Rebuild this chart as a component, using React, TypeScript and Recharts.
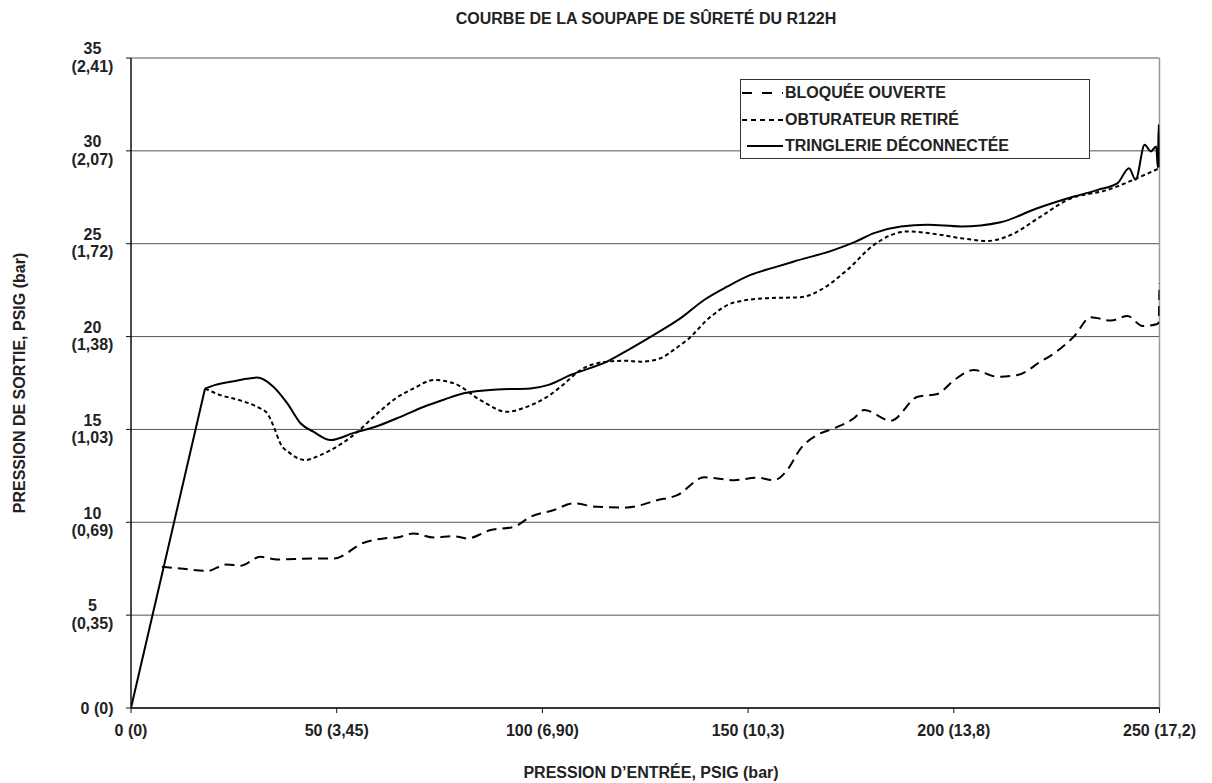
import React from "react";
import { LineChart, Line, XAxis, YAxis, CartesianGrid, ReferenceLine, Legend } from "recharts";

const FONT = "'Liberation Sans', Arial, sans-serif";

const xTicks = [0, 50, 100, 150, 200, 250];
const xTickLabels = ["0 (0)", "50 (3,45)", "100 (6,90)", "150 (10,3)", "200 (13,8)", "250 (17,2)"];
const yTicks = [0, 5, 10, 15, 20, 25, 30, 35];
const yTickPsig = ["0 (0)", "5", "10", "15", "20", "25", "30", "35"];
const yTickBar = ["", "(0,35)", "(0,69)", "(1,03)", "(1,38)", "(1,72)", "(2,07)", "(2,41)"];

const seriesNames = ["BLOQUÉE OUVERTE", "OBTURATEUR RETIRÉ", "TRINGLERIE DÉCONNECTÉE"];

// common straight rise from the origin, shared by all three curves
const riseX = [0, 18];
const riseY = [0, 17.2];

// BLOQUÉE OUVERTE (long dashes)
const bloqueeX = [7.5, 12, 18.5, 23.3, 26.6, 31.4, 35.5, 44.4, 49.3, 56.6, 61.4, 64.7, 68.7, 73.6, 78.5, 81.7, 87.4, 93.1, 97.1, 102.8, 107.6, 113.3, 120.6, 127.9, 132.8, 139.3, 146.6, 152.2, 156.3, 159.5, 162.8, 166.8, 170.9, 175.7, 178.2, 184.7, 191.2, 196, 200.1, 204.9, 210.6, 215.5, 221.1, 224.4, 229.2, 233.3, 238.2, 242.2, 245.9, 249.5, 249.8, 250];
const bloqueeY = [7.6, 7.51, 7.38, 7.73, 7.66, 8.14, 8.0, 8.05, 8.05, 8.9, 9.13, 9.18, 9.4, 9.18, 9.25, 9.13, 9.58, 9.76, 10.29, 10.66, 11.02, 10.83, 10.8, 11.19, 11.46, 12.42, 12.27, 12.4, 12.27, 12.81, 13.98, 14.7, 15.06, 15.6, 16.05, 15.47, 16.76, 16.91, 17.66, 18.2, 17.84, 17.93, 18.65, 19.1, 20.0, 21.04, 20.86, 21.11, 20.57, 20.68, 20.8, 22.87];

// OBTURATEUR RETIRÉ (short dashes)
const obturateurX = [18, 21.7, 26, 30.6, 33.1, 34.7, 36.3, 38.7, 42.4, 46, 49.3, 54.1, 60.6, 64.5, 68.7, 73.6, 78.5, 84.9, 91.4, 96, 101.2, 105, 109.3, 115.7, 120, 123.9, 128.7, 132, 135.2, 140.9, 146.5, 154.7, 162.8, 167.6, 174.1, 180.6, 188.7, 195.2, 201.7, 208.2, 213, 221.1, 227.6, 237.4, 245.5, 250];
const obturateurY = [17.2, 16.85, 16.6, 16.22, 15.87, 15.15, 14.25, 13.71, 13.35, 13.62, 13.98, 14.7, 16.0, 16.7, 17.21, 17.66, 17.48, 16.58, 15.95, 16.2, 16.76, 17.4, 18.2, 18.65, 18.7, 18.65, 18.83, 19.3, 19.82, 21.07, 21.83, 22.07, 22.12, 22.51, 23.59, 24.94, 25.66, 25.53, 25.3, 25.15, 25.39, 26.46, 27.36, 27.9, 28.62, 29.07];

// TRINGLERIE DÉCONNECTÉE (solid), after the rise
const tringlerieX = [18, 20.5, 25, 30.6, 34.6, 38, 41.2, 44.4, 48.5, 54, 60.6, 65.5, 71.2, 76, 80.9, 89, 97.1, 101.5, 106.8, 115.7, 121, 127.1, 133.6, 139.3, 145, 150.6, 156, 161.1, 170.9, 176, 180.6, 187.1, 193.6, 201.7, 211.4, 220.3, 229.2, 235, 239.8, 242.6, 244.2, 246.4, 247.9, 249.2, 249.6, 249.8, 250];
const tringlerieY = [17.2, 17.4, 17.6, 17.79, 17.3, 16.4, 15.33, 14.87, 14.43, 14.8, 15.24, 15.68, 16.22, 16.6, 16.95, 17.15, 17.21, 17.4, 17.93, 18.65, 19.3, 20.09, 20.99, 21.97, 22.7, 23.32, 23.7, 24.04, 24.67, 25.1, 25.57, 25.93, 26.02, 25.93, 26.16, 26.91, 27.54, 27.9, 28.26, 29.07, 28.44, 30.33, 29.97, 30.24, 29.1, 31.4, 29.1];

const toPoints = (xs: number[], ys: number[]) => xs.map((x, i) => ({ x, y: ys[i] }));

const riseData = toPoints(riseX, riseY);
const bloqueeData = toPoints(bloqueeX, bloqueeY);
const obturateurData = toPoints(obturateurX, obturateurY);
const tringlerieData = toPoints(tringlerieX, tringlerieY);

const textStyle = { fontFamily: FONT, fontWeight: 700, fontSize: 16, fill: "#222" };

const XTick = (props: any) => {
    const { x, payload } = props;
    const i = xTicks.indexOf(payload.value);
    return (
        <text x={x} y={736} textAnchor="middle" style={textStyle}>
            {xTickLabels[i]}
        </text>
    );
};

const YTick = (props: any) => {
    const { x, y, payload } = props;
    const i = yTicks.indexOf(payload.value);
    if (!yTickBar[i]) {
        return (
            <text x={x - 10.5} y={y + 6} textAnchor="end" style={textStyle}>
                {yTickPsig[i]}
            </text>
        );
    }
    return (
        <g>
            <text x={x - 31.5} y={y - 3.7} textAnchor="middle" style={textStyle}>
                {yTickPsig[i]}
            </text>
            <text x={x - 31.5} y={y + 13.7} textAnchor="middle" style={textStyle}>
                {yTickBar[i]}
            </text>
        </g>
    );
};

const LegendBox = () => (
    <div
        style={{
            width: 348,
            height: 78,
            border: "1.5px solid #333",
            background: "#fff",
            fontFamily: FONT,
            fontWeight: 700,
            fontSize: 16,
            color: "#222",
            boxSizing: "content-box",
        }}
    >
        {seriesNames.map((name, i) => (
            <div key={name} style={{ height: 26.5, display: "flex", alignItems: "center" }}>
                <svg width={44} height={10} style={{ flex: "none" }}>
                    <line
                        x1={i === 2 ? 6 : 1}
                        x2={42}
                        y1={5}
                        y2={5}
                        stroke="#000"
                        strokeWidth={2}
                        strokeDasharray={i === 0 ? "10 10" : i === 1 ? "5 4" : undefined}
                    />
                </svg>
                <span style={{ whiteSpace: "nowrap" }}>{name}</span>
            </div>
        ))}
    </div>
);

export default function App() {
    return (
        <div style={{ position: "relative", width: 1212, height: 783 }}>
            <style>{`body { margin: 0; }`}</style>
            <div
                style={{
                    position: "absolute",
                    top: 10,
                    left: 131,
                    width: 1030,
                    textAlign: "center",
                    fontFamily: FONT,
                    fontWeight: 700,
                    fontSize: 16,
                    color: "#222",
                }}
            >
                COURBE DE LA SOUPAPE DE SÛRETÉ DU R122H
            </div>
            <LineChart
                width={1212}
                height={783}
                margin={{ top: 58, right: 52.5, left: 0, bottom: 45 }}
            >
                <CartesianGrid vertical={false} stroke="#555" strokeWidth={1} />
                <XAxis
                    type="number"
                    dataKey="x"
                    domain={[0, 250]}
                    ticks={xTicks}
                    tick={XTick}
                    tickSize={5}
                    height={30}
                    axisLine={{ stroke: "#111", strokeWidth: 1.5 }}
                    tickLine={{ stroke: "#111" }}
                    allowDataOverflow
                    label={{
                        content: () => (
                            <text x={651} y={778} textAnchor="middle" style={textStyle}>
                                PRESSION D’ENTRÉE, PSIG (bar)
                            </text>
                        ),
                    }}
                />
                <YAxis
                    type="number"
                    domain={[0, 35]}
                    ticks={yTicks}
                    tick={YTick}
                    tickSize={5}
                    width={131}
                    axisLine={{ stroke: "#111", strokeWidth: 1.5 }}
                    tickLine={{ stroke: "#111" }}
                    allowDataOverflow
                    label={{
                        content: () => (
                            <text x={25} y={383} textAnchor="middle" transform="rotate(-90, 25, 383)" style={textStyle}>
                                PRESSION DE SORTIE, PSIG (bar)
                            </text>
                        ),
                    }}
                />
                <ReferenceLine x={250} stroke="#999" strokeWidth={1.5} />
                <Line
                    data={bloqueeData}
                    dataKey="y"
                    name={seriesNames[0]}
                    type="monotone"
                    stroke="#000"
                    strokeWidth={2}
                    strokeDasharray="10 6"
                    dot={false}
                    activeDot={false}
                    isAnimationActive={false}
                />
                <Line
                    data={obturateurData}
                    dataKey="y"
                    name={seriesNames[1]}
                    type="monotone"
                    stroke="#000"
                    strokeWidth={2}
                    strokeDasharray="4 3"
                    dot={false}
                    activeDot={false}
                    isAnimationActive={false}
                />
                <Line
                    data={riseData}
                    dataKey="y"
                    name={seriesNames[2] + " (montée)"}
                    type="linear"
                    stroke="#000"
                    strokeWidth={2}
                    dot={false}
                    activeDot={false}
                    isAnimationActive={false}
                />
                <Line
                    data={tringlerieData}
                    dataKey="y"
                    name={seriesNames[2]}
                    type="monotone"
                    stroke="#000"
                    strokeWidth={2}
                    dot={false}
                    activeDot={false}
                    isAnimationActive={false}
                />
                <Legend
                    layout="horizontal"
                    verticalAlign="middle"
                    align="center"
                    content={LegendBox}
                    wrapperStyle={{ left: 740, top: 79, width: 352 }}
                />
            </LineChart>
        </div>
    );
}
